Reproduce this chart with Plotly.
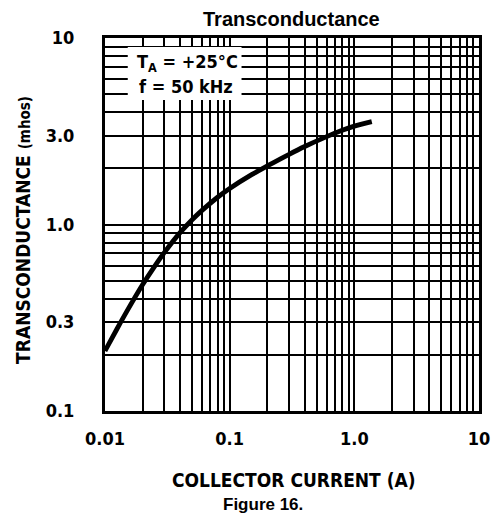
import plotly.graph_objects as go

# ---- data ----
collector_current = [0.01, 0.0125, 0.015, 0.02, 0.025, 0.03, 0.04, 0.05, 0.06, 0.08,
                     0.1, 0.15, 0.2, 0.3, 0.4, 0.6, 0.8, 1.0, 1.38]
transconductance = [0.21, 0.276, 0.343, 0.475, 0.597, 0.709, 0.904, 1.06, 1.19, 1.40,
                     1.56, 1.85, 2.06, 2.38, 2.62, 2.96, 3.20, 3.37, 3.56]

x_decades = [0.01, 0.1, 1, 10]
y_decades = [0.1, 1, 10]
x_label_vals = [0.01, 0.1, 1, 10]
x_label_text = ["0.01", "0.1", "1.0", "10"]
y_label_vals = [0.1, 0.3, 1, 3, 10]
y_label_text = ["0.1", "0.3", "1.0", "3.0", "10"]

def grid_vals(decades, skip):
    vals = []
    for d in decades[:-1]:
        for k in range(2, 10):
            v = round(d * k, 6)
            if v not in skip:
                vals.append(v)
    return vals

x_minor = grid_vals(x_decades, x_label_vals)
y_minor = grid_vals(y_decades, y_label_vals)

NARROW = "DejaVu Sans Condensed, Liberation Sans Narrow, Arial Narrow, sans-serif"
ARIAL = "Liberation Sans, Arial, Helvetica, sans-serif"

fig = go.Figure()
fig.add_trace(go.Scatter(
    x=collector_current, y=transconductance, mode="lines",
    line=dict(color="black", width=4.8, shape="spline", smoothing=0.8),
    hoverinfo="skip", showlegend=False,
))

# page body has an 8px offset; target plot area is x 105..483, y 38..411
OFF = 8
L, R, T, B = 105 - OFF, 19, 38 - OFF, 108
W, H = 502 - OFF, 519 - OFF
pw, ph = W - L - R, H - T - B

def px(xp):
    return (xp - OFF - L) / pw

def py(yp):
    return (H - B - (yp - OFF)) / ph

GRID_W = 1.5
axis_common = dict(
    type="log", showgrid=True, gridcolor="black", gridwidth=GRID_W,
    showline=True, linecolor="black", linewidth=3, mirror=True,
    ticks="", tickfont=dict(family=NARROW, size=18, color="black", weight="bold"),
    zeroline=False,
)

fig.update_layout(
    width=W, height=H,
    margin=dict(l=L, r=R, t=T, b=B, pad=0),
    paper_bgcolor="white", plot_bgcolor="white",
    xaxis=dict(range=[-2, 1], tickvals=x_label_vals, ticktext=x_label_text,
               ticklabelstandoff=9,
               minor=dict(tickvals=x_minor, showgrid=True, gridcolor="black",
                          gridwidth=GRID_W, ticks=""),
               **axis_common),
    yaxis=dict(range=[-1, 1], tickvals=y_label_vals, ticktext=y_label_text,
               ticklabelstandoff=24,
               minor=dict(tickvals=y_minor, showgrid=True, gridcolor="black",
                          gridwidth=GRID_W, ticks=""),
               **axis_common),
    showlegend=False,
)

# white box behind the condition text
fig.add_shape(type="rect", xref="paper", yref="paper",
              x0=px(128), x1=px(243), y0=py(100), y1=py(47),
              fillcolor="white", line=dict(width=0), layer="above")

annos = [
    dict(text="Transconductance", x=px(293), y=py(19), xanchor="center", yanchor="middle",
         borderpad=0, font=dict(family=ARIAL, size=20, color="black", weight="bold")),
    dict(text="T<sub>A</sub> = +25°C", x=px(135), y=py(63), xanchor="left", yanchor="middle",
         font=dict(family=NARROW, size=18, color="black", weight="bold")),
    dict(text="f = 50 kHz", x=px(137), y=py(86), xanchor="left", yanchor="middle",
         font=dict(family=NARROW, size=18, color="black", weight="bold")),
    dict(text="COLLECTOR CURRENT (A)", x=px(296), y=py(480), xanchor="center", yanchor="middle",
         font=dict(family=NARROW, size=19, color="black", weight="bold")),
    dict(text="Figure 16.", x=px(265), y=py(504), xanchor="center", yanchor="middle",
         font=dict(family=ARIAL, size=17, color="black", weight="bold")),
    dict(text="TRANSCONDUCTANCE <span style='font-size:15px'>(mhos)</span>",
         x=px(22), y=py(230), xanchor="center", yanchor="middle", textangle=-90,
         font=dict(family=NARROW, size=19, color="black", weight="bold")),
]
for a in annos:
    fig.add_annotation(xref="paper", yref="paper", showarrow=False, **a)

fig.write_html("out.html")
